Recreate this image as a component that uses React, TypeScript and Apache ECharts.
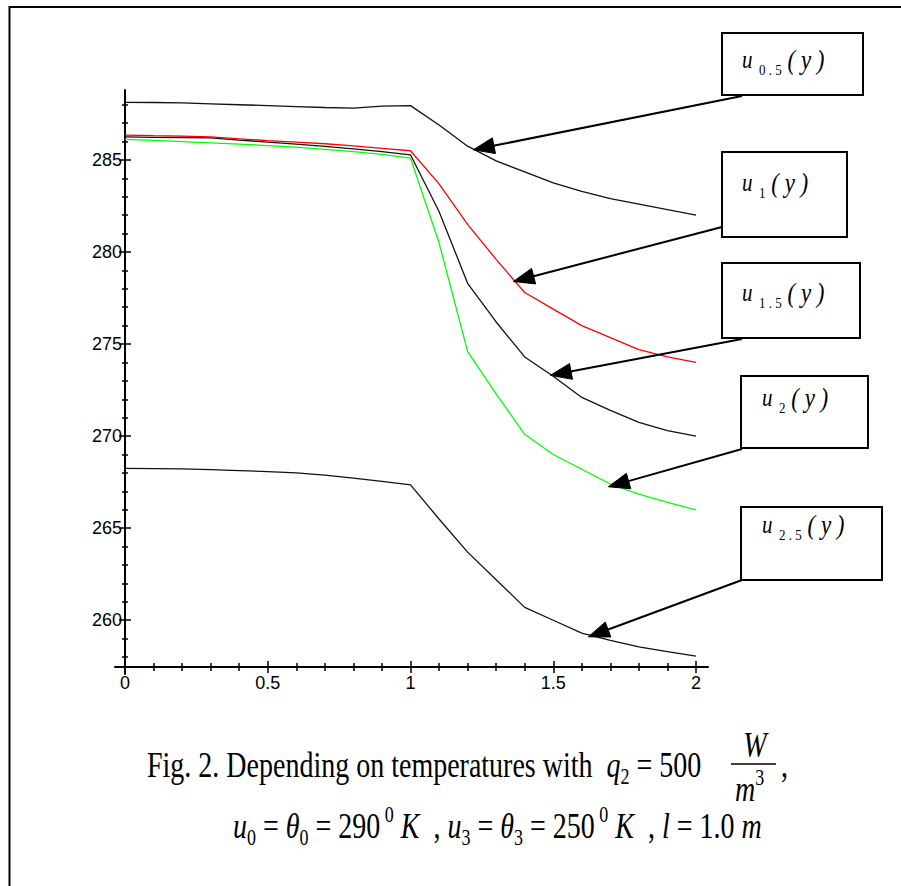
import React, { useEffect, useRef } from 'react';
import * as echarts from 'echarts';

const xValues = [0, 0.1, 0.2, 0.3, 0.4, 0.5, 0.6, 0.7, 0.8, 0.9, 1.0, 1.1, 1.2, 1.3, 1.4, 1.5, 1.6, 1.7, 1.8, 1.9, 2.0];
const u05 = [288.13, 288.12, 288.1, 288.05, 288.0, 287.95, 287.9, 287.85, 287.82, 287.92, 287.95, 286.9, 285.75, 284.95, 284.35, 283.75, 283.3, 282.9, 282.6, 282.3, 282.0];
const u1 = [286.35, 286.32, 286.3, 286.25, 286.15, 286.05, 285.97, 285.88, 285.76, 285.63, 285.5, 283.7, 281.5, 279.6, 277.8, 276.9, 276.0, 275.35, 274.7, 274.3, 274.0];
const u15 = [286.25, 286.23, 286.22, 286.2, 286.08, 285.97, 285.86, 285.74, 285.6, 285.45, 285.28, 282.2, 278.3, 276.2, 274.3, 273.25, 272.1, 271.4, 270.75, 270.3, 270.0];
const u2 = [286.12, 286.06, 286.0, 285.93, 285.86, 285.78, 285.7, 285.58, 285.45, 285.3, 285.1, 280.5, 274.6, 272.3, 270.1, 269.0, 268.2, 267.4, 266.85, 266.4, 266.0];
const u25 = [268.25, 268.24, 268.22, 268.18, 268.13, 268.07, 268.0, 267.88, 267.72, 267.54, 267.35, 265.5, 263.7, 262.2, 260.7, 260.0, 259.3, 258.9, 258.55, 258.3, 258.05];

const xMajorTicks = [0, 0.5, 1, 1.5, 2];
const xMinorTicks = [0.1, 0.2, 0.3, 0.4, 0.6, 0.7, 0.8, 0.9, 1.1, 1.2, 1.3, 1.4, 1.6, 1.7, 1.8, 1.9];
const yMajorTicks = [260, 265, 270, 275, 280, 285];
const yMinorTicks = [258, 259, 261, 262, 263, 264, 266, 267, 268, 269, 271, 272, 273, 274, 276, 277, 278, 279, 281, 282, 283, 284, 286, 287, 288];

const labelSubs = ['0.5', '1', '1.5', '2', '2.5'];
// data points the arrows point at
const arrowTargets = [
  [1.22, 285.55],
  [1.36, 278.4],
  [1.49, 273.3],
  [1.693, 267.25],
  [1.623, 259.1],
];

const SERIF = "'Liberation Serif', 'Times New Roman', serif";
const SANS = "'Liberation Sans', Arial, sans-serif";

export default function App() {
  const ref = useRef<HTMLDivElement>(null);
  useEffect(() => {
    const el = ref.current as HTMLDivElement;
    const chart = echarts.init(el, null, { renderer: 'svg' });
    const pairs = (ys: number[]) => xValues.map((x, i) => [x, ys[i]]);
    const mk = (name: string, ys: number[], color: string, z: number) => ({
      type: 'line',
      name,
      data: pairs(ys),
      xAxisIndex: 0,
      yAxisIndex: 0,
      showSymbol: false,
      symbol: 'none',
      silent: true,
      z,
      lineStyle: { color, width: 1.3 },
      itemStyle: { color },
    });
    const tickStyle = { color: '#000', width: 1.5 };
    const tickFont = { color: '#000', fontSize: 18, fontFamily: SANS };
    chart.setOption({
      animation: false,
      backgroundColor: '#fff',
      grid: [
        { left: 125, top: 90, width: 571, height: 577 },
        { left: 115, top: 90, width: 593, height: 577 },
        { left: 125, top: 90, width: 571, height: 584 },
      ],
      xAxis: [
        {
          gridIndex: 0, type: 'value', position: 'bottom', min: 0, max: 2, offset: -6,
          axisLine: { show: false, onZero: false },
          axisTick: { show: true, customValues: xMajorTicks, length: 12, lineStyle: tickStyle },
          axisLabel: { customValues: xMajorTicks, margin: 13, ...tickFont, formatter: (v: number) => String(v) },
          splitLine: { show: false },
        },
        {
          gridIndex: 0, type: 'value', position: 'bottom', min: 0, max: 2, offset: -4,
          axisLine: { show: false, onZero: false },
          axisTick: { show: true, customValues: xMinorTicks, length: 8, lineStyle: tickStyle },
          axisLabel: { show: false },
          splitLine: { show: false },
        },
        {
          gridIndex: 1, type: 'value', position: 'bottom', min: 0, max: 1,
          axisLine: { show: true, onZero: false, lineStyle: { color: '#000', width: 2 } },
          axisTick: { show: false }, axisLabel: { show: false }, splitLine: { show: false },
        },
        { gridIndex: 2, type: 'value', min: 0, max: 1, show: false },
      ],
      yAxis: [
        {
          gridIndex: 0, type: 'value', position: 'left', min: 257.46, max: 288.8, offset: -6,
          axisLine: { show: false, onZero: false },
          axisTick: { show: true, customValues: yMajorTicks, length: 12, lineStyle: tickStyle },
          axisLabel: { customValues: yMajorTicks, margin: 9, ...tickFont },
          splitLine: { show: false },
        },
        {
          gridIndex: 0, type: 'value', position: 'left', min: 257.46, max: 288.8, offset: -3,
          axisLine: { show: false, onZero: false },
          axisTick: { show: true, customValues: yMinorTicks, length: 6, lineStyle: tickStyle },
          axisLabel: { show: false },
          splitLine: { show: false },
        },
        { gridIndex: 1, type: 'value', min: 0, max: 1, show: false },
        {
          gridIndex: 2, type: 'value', position: 'left', min: 0, max: 1,
          axisLine: { show: true, onZero: false, lineStyle: { color: '#000', width: 2 } },
          axisTick: { show: false }, axisLabel: { show: false }, splitLine: { show: false },
        },
      ],
      series: [
        mk('u0.5', u05, '#111', 2),
        mk('u2.5', u25, '#111', 2),
        mk('u1.5', u15, '#111', 3),
        mk('u2', u2, '#00ff00', 4),
        mk('u1', u1, '#ff0000', 5),
      ],
    });

    // annotation boxes (pixel layout of the figure)
    const boxes = [
      { x: 722, y: 33, w: 141, h: 62, tx: 742, ty: 60 },
      { x: 722, y: 152, w: 125, h: 85, tx: 742, ty: 183 },
      { x: 722, y: 263, w: 138, h: 75, tx: 742, ty: 293 },
      { x: 741, y: 376, w: 127, h: 72, tx: 762, ty: 398 },
      { x: 741, y: 507, w: 141, h: 73, tx: 762, ty: 525 },
    ];
    const tails = [
      [742, 96],
      [722, 227],
      [742, 339],
      [742, 449],
      [742, 580],
    ];
    const g: any[] = [];
    // page frame
    g.push({ type: 'polyline', shape: { points: [[9.5, 886], [9.5, 7], [901, 7]] }, style: { stroke: '#000', lineWidth: 2, fill: null }, silent: true });

    const LSY = 1.15;
    boxes.forEach((b, i) => {
      g.push({ type: 'rect', shape: { x: b.x, y: b.y, width: b.w, height: b.h }, style: { fill: '#fff', stroke: '#000', lineWidth: 2 }, z: 10 });
      g.push({
        type: 'text', x: b.tx, y: b.ty - 15 * LSY, scaleY: LSY, z: 11,
        style: {
          text: `{u|u}{s|  ${labelSubs[i].split('').join(' ')}}{p| ( y )}`,
          verticalAlign: 'top',
          align: 'left',
          fill: '#000',
          rich: {
            u: { fontSize: 21, fontStyle: 'italic', fontFamily: SERIF, lineHeight: 30, verticalAlign: 'middle', fill: '#000' },
            s: { fontSize: 13, fontFamily: SERIF, lineHeight: 14, verticalAlign: 'bottom', fill: '#000' },
            p: { fontSize: 23, fontStyle: 'italic', fontFamily: SERIF, lineHeight: 30, verticalAlign: 'middle', fill: '#000' },
          },
        },
      });
    });

    arrowTargets.forEach((t, i) => {
      const tip = chart.convertToPixel({ xAxisIndex: 0, yAxisIndex: 0 }, t) as number[];
      const tail = tails[i];
      const dx = tip[0] - tail[0];
      const dy = tip[1] - tail[1];
      const L = Math.hypot(dx, dy);
      const ux = dx / L, uy = dy / L;
      const headLen = 21, hw = 8;
      const bx = tip[0] - ux * headLen, by = tip[1] - uy * headLen;
      const nx = -uy, ny = ux;
      g.push({ type: 'line', shape: { x1: tail[0], y1: tail[1], x2: bx + ux * 2, y2: by + uy * 2 }, style: { stroke: '#000', lineWidth: 2 }, z: 12 });
      g.push({ type: 'polygon', shape: { points: [[tip[0], tip[1]], [bx + nx * hw, by + ny * hw], [bx - nx * hw, by - ny * hw]] }, style: { fill: '#000', stroke: '#000', lineWidth: 1 }, z: 12 });
    });

    const capRich = {
      n: { fontSize: 28, fontFamily: SERIF, lineHeight: 36, verticalAlign: 'middle', fill: '#000' },
      i: { fontSize: 28, fontFamily: SERIF, fontStyle: 'italic', lineHeight: 36, verticalAlign: 'middle', fill: '#000' },
      s: { fontSize: 18, fontFamily: SERIF, lineHeight: 18, verticalAlign: 'bottom', fill: '#000' },
      p: { fontSize: 18, fontFamily: SERIF, lineHeight: 18, verticalAlign: 'top', fill: '#000' },
    };
    const SY = 1.3;
    g.push({
      type: 'text', x: 147, y: 741, scaleY: SY,
      style: { text: '{n|Fig. 2. Depending on temperatures with  }{i|q}{s|2}{n| = 500}', verticalAlign: 'top', align: 'left', rich: capRich },
    });
    // fraction W / m^3
    g.push({ type: 'text', x: 755, y: 745, scaleY: SY, style: { text: 'W', fontSize: 28, fontStyle: 'italic', fontFamily: SERIF, fill: '#000', align: 'center', verticalAlign: 'middle' } });
    g.push({ type: 'line', shape: { x1: 731, y1: 764, x2: 776, y2: 764 }, style: { stroke: '#000', lineWidth: 1.5 } });
    g.push({
      type: 'text', x: 735, y: 765, scaleY: SY,
      style: { text: '{i|m}{p|3}', verticalAlign: 'top', align: 'left', rich: capRich },
    });
    g.push({ type: 'text', x: 781, y: 741, scaleY: SY, style: { text: '{n|,}', verticalAlign: 'top', align: 'left', rich: capRich } });
    g.push({
      type: 'text', x: 233, y: 802, scaleY: SY,
      style: {
        text: '{i|u}{s|0}{n| = }{i|θ}{s|0}{n| = 290}{p| 0}{n| }{i|K}{n|  , }{i|u}{s|3}{n| = }{i|θ}{s|3}{n| = 250}{p| 0}{n| }{i|K}{n|  , }{i|l}{n| = 1.0 }{i|m}',
        verticalAlign: 'top', align: 'left', rich: capRich,
      },
    });

    chart.setOption({ graphic: g });
    return () => chart.dispose();
  }, []);
  return <div ref={ref} style={{ position: 'absolute', left: 0, top: 0, width: 901, height: 886, background: '#fff' }} />;
}
